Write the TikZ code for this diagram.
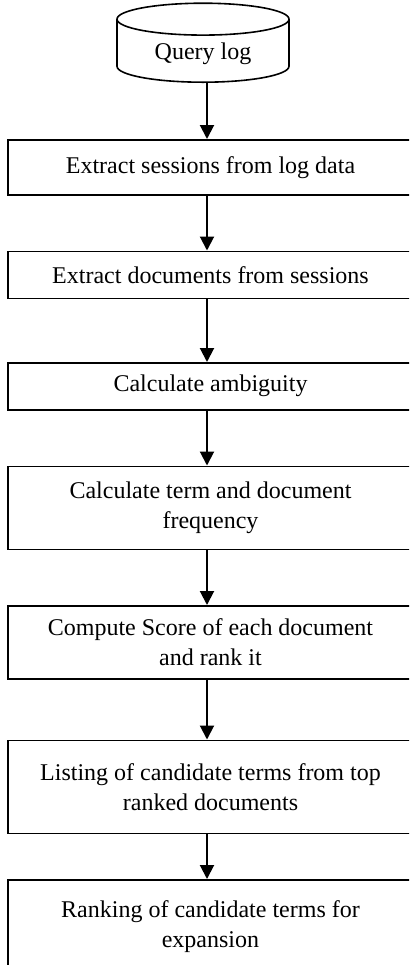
\documentclass[tikz,border=0pt]{standalone}
\usepackage{fontspec}
\setmainfont{Liberation Serif}
\usetikzlibrary{shapes.geometric, arrows.meta, positioning}

\begin{document}
\begin{tikzpicture}[
    box/.style={rectangle, draw=black, line width=0.75pt, minimum width=202.5pt, inner sep=0pt, align=center, font=\fontsize{12pt}{15pt}\selectfont},
    store/.style={cylinder, shape border rotate=90, aspect=0.29, draw=black, line width=0.8pt, minimum width=86pt, minimum height=39.5pt, font=\fontsize{12pt}{15pt}\selectfont},
    arrow/.style={-{Triangle[width=7pt,length=7pt]}, line width=1pt}
]
\useasboundingbox (0,0) rectangle (204.5pt,-482.5pt);
\clip (0,0) rectangle (204.5pt,-482.5pt);

% Fuente de datos
\node[store, anchor=south] (qlog) at (101.5pt,-41.5pt) {Query log};
\coordinate (axis) at (103.5pt,0);

% Pasos del proceso
\node[box, minimum height=27.5pt, below=28pt of qlog, xshift=3.75pt] (s1) {Extract sessions from log data};
\node[box, minimum height=23.5pt, below=27.5pt of s1] (s2) {Extract documents from sessions};
\node[box, minimum height=23.5pt, below=31.5pt of s2] (s3) {Calculate ambiguity};
\node[box, minimum height=41.5pt, below=27.5pt of s3] (s4) {Calculate term and document\\frequency};
\node[box, minimum height=36.5pt, below=27.5pt of s4] (s5) {Compute Score of each document\\and rank it};
\node[box, minimum height=46.5pt, below=30pt of s5] (s6) {Listing of candidate terms from top\\ranked documents};
\node[box, minimum height=46.5pt, below=22.5pt of s6] (s7) {Ranking of candidate terms for\\expansion};

\foreach \i/\j in {qlog/s1,s1/s2,s2/s3,s3/s4,s4/s5,s5/s6,s6/s7} {
    \draw[arrow] (\i.south -| axis) -- (\j.north -| axis);
}

\end{tikzpicture}
\end{document}
